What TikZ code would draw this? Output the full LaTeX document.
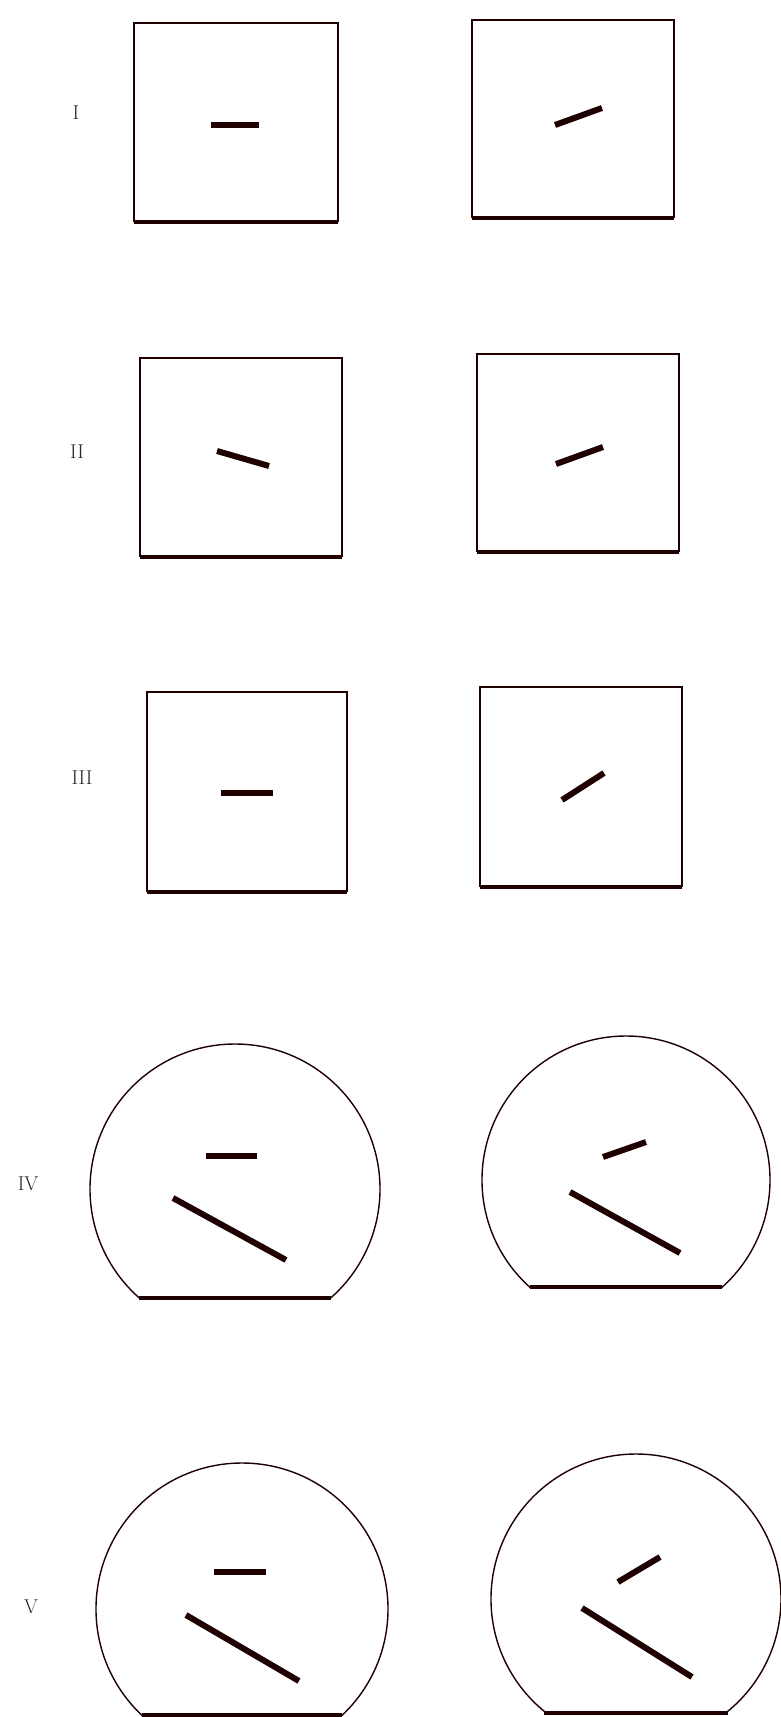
\documentclass[tikz,border=0pt]{standalone}
\begin{document}
\begin{tikzpicture}[x=1pt,y=-1pt,
  ink/.style={draw=black!88!red},
  frame/.style={ink, line width=1.6pt},
  ring/.style={ink, line width=1.4pt},
  base/.style={ink, line width=4pt, line cap=butt},
  stick/.style={ink, line width=6pt, line cap=butt},
  lab/.style={font=\fontsize{20}{20}\selectfont, text=black!85, inner sep=0pt}]
\useasboundingbox (0,0) rectangle (780,1717);
\fill[white] (0,0) rectangle (780,1717);

% labels
\node[lab] (lI) at (76,113) {I};
\node[lab] (lII) at (77,452) {II};
\node[lab] (lIII) at (82,778) {III};
\node[lab] (lIV) at (28,1184) {IV};
\node[lab] (lV) at (31,1607) {V};

% row I
\draw[frame] (134,222) -- (134,23) -- (338,23) -- (338,222);
\draw[base] (134,222) -- (338,222);
\draw[stick] (211,125) -- (259,125);
\draw[frame] (472,218) -- (472,20) -- (674,20) -- (674,218);
\draw[base] (472,218) -- (674,218);
\draw[stick] (555,125) -- (602,108);

% row II
\draw[frame] (140,557) -- (140,358) -- (342,358) -- (342,557);
\draw[base] (140,557) -- (342,557);
\draw[stick] (217,451) -- (269,466);
\draw[frame] (477,552) -- (477,354) -- (679,354) -- (679,552);
\draw[base] (477,552) -- (679,552);
\draw[stick] (556,464) -- (603,447);

% row III
\draw[frame] (147,892) -- (147,692) -- (347,692) -- (347,892);
\draw[base] (147,892) -- (347,892);
\draw[stick] (221,793) -- (273,793);
\draw[frame] (480,887) -- (480,687) -- (682,687) -- (682,887);
\draw[base] (480,887) -- (682,887);
\draw[stick] (562,800) -- (604,773);

% row IV
\begin{scope}
  \clip (80,1030) rectangle (400,1298);
  \draw[ring] (235,1189) circle (145);
\end{scope}
\draw[base] (139,1298) -- (331,1298);
\draw[stick] (206,1156) -- (257,1156);
\draw[stick] (173,1198) -- (286,1260);

\begin{scope}
  \clip (470,1020) rectangle (790,1287);
  \draw[ring] (626,1180) circle (144);
\end{scope}
\draw[base] (530,1287) -- (722,1287);
\draw[stick] (603,1157) -- (646,1142);
\draw[stick] (570,1192) -- (680,1253);

% row V
\begin{scope}
  \clip (85,1450) rectangle (400,1715);
  \draw[ring] (242,1609) circle (146);
\end{scope}
\draw[base] (142,1715) -- (342,1715);
\draw[stick] (214,1572) -- (266,1572);
\draw[stick] (186,1615) -- (299,1681);

\begin{scope}
  \clip (480,1440) rectangle (790,1713);
  \draw[ring] (636,1599) circle (145);
\end{scope}
\draw[base] (544,1713) -- (728,1713);
\draw[stick] (618,1582) -- (660,1557);
\draw[stick] (582,1608) -- (692,1677);
\end{tikzpicture}
\end{document}
